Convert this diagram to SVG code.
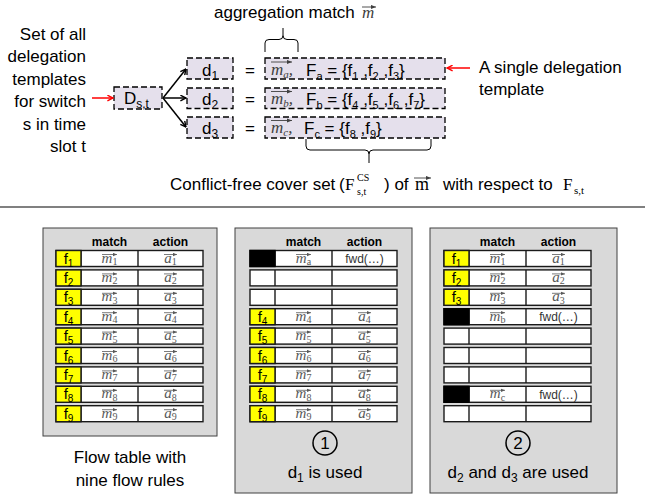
<svg xmlns="http://www.w3.org/2000/svg" xmlns:xlink="http://www.w3.org/1999/xlink" width="645" height="495" viewBox="0 0 645 495">
<style>
text{font-family:"Liberation Sans",Arial,sans-serif;fill:#000}
.s17{font-size:17px}
.dash{fill:#e5e0ec;stroke:#000;stroke-width:1.3;stroke-dasharray:6 3}
.mt{font-family:"Liberation Serif","Times New Roman",serif;font-style:italic;fill:#404040}
.sf{font-family:"Liberation Serif","Times New Roman",serif;fill:#000}
.hdr{font-size:12px;font-weight:bold;text-anchor:middle}
.fl{font-size:15px;text-anchor:middle}
.mi{font-family:"Liberation Serif","Times New Roman",serif;font-style:italic;font-size:15px;fill:#595959;text-anchor:middle}
.sb{font-size:10px;font-style:normal}
.vec{stroke:#595959;stroke-width:0.8;fill:none;marker-end:url(#vh)}
.vec2{stroke:#404040;stroke-width:0.9;fill:none;marker-end:url(#vh2)}
.fwd{font-size:12px;fill:#333;text-anchor:middle}
.panel{fill:#d9d9d9;stroke:#404040;stroke-width:1}
.conn{stroke:#000;stroke-width:1.5;fill:none;marker-end:url(#ah)}
.red{stroke:#ff0000;stroke-width:1.5;fill:none;marker-end:url(#ahr)}
.brace{stroke:#000;stroke-width:1;fill:none}
.lbl{font-size:17px;text-anchor:middle}
</style>
<defs>
<marker id="ah" viewBox="0 0 10 10" refX="9" refY="5" markerWidth="7" markerHeight="7" markerUnits="userSpaceOnUse" orient="auto"><path d="M1,1 L9,5 L1,9" fill="none" stroke="#000" stroke-width="2"/></marker>
<marker id="ahr" viewBox="0 0 10 10" refX="9" refY="5" markerWidth="7" markerHeight="7" markerUnits="userSpaceOnUse" orient="auto"><path d="M1,1 L9,5 L1,9" fill="none" stroke="#ff0000" stroke-width="2"/></marker>
<marker id="vh" viewBox="0 0 6 6" refX="6" refY="3" markerWidth="4" markerHeight="4" markerUnits="userSpaceOnUse" orient="auto"><path d="M0,0.5 L6,3 L0,5.5 z" fill="#595959"/></marker>
<marker id="vh2" viewBox="0 0 6 6" refX="6" refY="3" markerWidth="5" markerHeight="5" markerUnits="userSpaceOnUse" orient="auto"><path d="M0,0.5 L6,3 L0,5.5 z" fill="#404040"/></marker>
<g id="row"><rect x="0" y="0" width="147" height="16" fill="#fff" stroke="#1a1a1a" stroke-width="1.4"/><path d="M25,0V16M82,0V16" stroke="#1a1a1a" stroke-width="1.4"/></g>
<rect id="fy" x="0" y="0" width="25" height="16" fill="#ffff00" stroke="#1a1a1a" stroke-width="1.4"/>
<rect id="fb" x="0" y="0" width="25" height="16" fill="#000" stroke="#000" stroke-width="1.4"/>
</defs>

<rect width="645" height="495" fill="#fff"/>

<!-- left description -->
<g id="desc-left" class="s17">
<text x="86" y="39.5" text-anchor="end">Set of all</text>
<text x="86" y="62" text-anchor="end">delegation</text>
<text x="86" y="84.5" text-anchor="end">templates</text>
<text x="86" y="107" text-anchor="end">for switch</text>
<text x="86" y="129.5" text-anchor="end">s in time</text>
<text x="86" y="152" text-anchor="end">slot t</text>
</g>

<g id="agg-label">
<text class="s17" x="214" y="18">aggregation match</text>
<text class="mt" x="362" y="18" font-size="17">m</text>
<path class="vec2" d="M362,7H376"/>
</g>

<g id="node-D">
<rect class="dash" x="114" y="87" width="48" height="22"/>
<text class="s17" x="124" y="104">D<tspan font-size="12" dy="4">s,t</tspan></text>
</g>

<g id="node-d1">
<rect class="dash" x="187" y="58" width="46" height="21"/>
<text class="s17" x="210" y="75.5" text-anchor="middle">d<tspan font-size="12" dy="4">1</tspan></text>
</g>
<g id="node-d2">
<rect class="dash" x="187" y="88" width="46" height="20.5"/>
<text class="s17" x="210" y="105" text-anchor="middle">d<tspan font-size="12" dy="4">2</tspan></text>
</g>
<g id="node-d3">
<rect class="dash" x="187" y="117" width="46" height="21"/>
<text class="s17" x="210" y="134" text-anchor="middle">d<tspan font-size="12" dy="4">3</tspan></text>
</g>

<g id="equals" class="s17">
<text x="250" y="75.5" text-anchor="middle">=</text>
<text x="250" y="105" text-anchor="middle">=</text>
<text x="250" y="134" text-anchor="middle">=</text>
</g>

<g id="tmpl-a">
<rect class="dash" x="265" y="58" width="180" height="21"/>
<text class="mt" x="271" y="74.5" font-size="17">m<tspan font-size="11" dy="3">a</tspan><tspan dy="-3">,</tspan></text>
<path class="vec2" d="M271,62H292"/>
<text class="s17" x="306" y="75.5">F<tspan font-size="11" dy="4">a</tspan><tspan dy="-4"> = {f</tspan><tspan font-size="11" dy="4">1</tspan><tspan dy="-4"> ,f</tspan><tspan font-size="11" dy="4">2</tspan><tspan dy="-4"> ,f</tspan><tspan font-size="11" dy="4">3</tspan><tspan dy="-4">}</tspan></text>
</g>
<g id="tmpl-b">
<rect class="dash" x="265" y="88" width="180" height="20.5"/>
<text class="mt" x="271" y="104" font-size="17">m<tspan font-size="11" dy="3">b</tspan><tspan dy="-3">,</tspan></text>
<path class="vec2" d="M271,91.5H292"/>
<text class="s17" x="306" y="105">F<tspan font-size="11" dy="4">b</tspan><tspan dy="-4"> = {f</tspan><tspan font-size="11" dy="4">4</tspan><tspan dy="-4"> ,f</tspan><tspan font-size="11" dy="4">5</tspan><tspan dy="-4"> ,f</tspan><tspan font-size="11" dy="4">6</tspan><tspan dy="-4"> ,f</tspan><tspan font-size="11" dy="4">7</tspan><tspan dy="-4">}</tspan></text>
</g>
<g id="tmpl-c">
<rect class="dash" x="265" y="117" width="180" height="21"/>
<text class="mt" x="271" y="133" font-size="17">m<tspan font-size="11" dy="3">c</tspan><tspan dy="-3">,</tspan></text>
<path class="vec2" d="M271,120.5H292"/>
<text class="s17" x="304" y="134">F<tspan font-size="11" dy="4">c</tspan><tspan dy="-4"> = {f</tspan><tspan font-size="11" dy="4">8</tspan><tspan dy="-4"> ,f</tspan><tspan font-size="11" dy="4">9</tspan><tspan dy="-4">}</tspan></text>
</g>

<g id="desc-right" class="s17">
<text x="479" y="73">A single delegation</text>
<text x="479" y="95">template</text>
</g>

<g id="connectors">
<path class="red" d="M92,98H113"/>
<path class="red" d="M470,68H447"/>
<path class="conn" d="M163,98L186,69"/>
<path class="conn" d="M163,98H186"/>
<path class="conn" d="M163,98L186,127"/>
<path class="brace" d="M265,52V43Q265,39.5 269,39.5H279Q283,39.5 283,35.5V28M283,35.5Q283,39.5 287,39.5H294Q298,39.5 298,43V52"/>
<path class="brace" d="M306,139V146Q306,150 310,150H365Q369,150 369,154V163M369,154Q369,150 373,150H427Q431,150 431,146V139"/>
</g>

<g id="cover-label">
<text class="s17" x="170" y="190">Conflict-free cover set</text>
<text class="s17" x="339" y="190">(</text>
<text class="sf" x="345" y="190" font-size="17">F</text>
<text class="sf" x="357" y="181" font-size="10">CS</text>
<text class="sf" x="357" y="195" font-size="10">s,t</text>
<text class="s17" x="384" y="190">) of</text>
<text class="sf" x="415" y="190" font-size="18">m</text>
<path class="vec2" d="M414,178H431"/>
<text class="s17" x="443" y="190">with respect to</text>
<text class="sf" x="563" y="190" font-size="17">F</text>
<text class="sf" x="574" y="194" font-size="11">s,t</text>
</g>

<path id="separator" d="M0,207H645" stroke="#808080" stroke-width="2"/>

<!-- Panel 1 -->
<g id="panel-flowtable">
<rect class="panel" x="43" y="228" width="174" height="208"/>
<text class="hdr" x="109.5" y="246">match</text>
<text class="hdr" x="170.5" y="246">action</text>
<g transform="translate(56,250.5)"><use href="#row"/><use href="#fy"/><text class="fl" x="12.5" y="13">f<tspan class="sb" dy="3">1</tspan></text><text class="mi" x="53.5" y="12">m<tspan class="sb" dy="2.5">1</tspan></text><path class="vec" d="M46,4H61"/><text class="mi" x="114.5" y="12">a<tspan class="sb" dy="2.5">1</tspan></text><path class="vec" d="M108,4H121"/></g>
<g transform="translate(56,269.9)"><use href="#row"/><use href="#fy"/><text class="fl" x="12.5" y="13">f<tspan class="sb" dy="3">2</tspan></text><text class="mi" x="53.5" y="12">m<tspan class="sb" dy="2.5">2</tspan></text><path class="vec" d="M46,4H61"/><text class="mi" x="114.5" y="12">a<tspan class="sb" dy="2.5">2</tspan></text><path class="vec" d="M108,4H121"/></g>
<g transform="translate(56,289.3)"><use href="#row"/><use href="#fy"/><text class="fl" x="12.5" y="13">f<tspan class="sb" dy="3">3</tspan></text><text class="mi" x="53.5" y="12">m<tspan class="sb" dy="2.5">3</tspan></text><path class="vec" d="M46,4H61"/><text class="mi" x="114.5" y="12">a<tspan class="sb" dy="2.5">3</tspan></text><path class="vec" d="M108,4H121"/></g>
<g transform="translate(56,308.7)"><use href="#row"/><use href="#fy"/><text class="fl" x="12.5" y="13">f<tspan class="sb" dy="3">4</tspan></text><text class="mi" x="53.5" y="12">m<tspan class="sb" dy="2.5">4</tspan></text><path class="vec" d="M46,4H61"/><text class="mi" x="114.5" y="12">a<tspan class="sb" dy="2.5">4</tspan></text><path class="vec" d="M108,4H121"/></g>
<g transform="translate(56,328.1)"><use href="#row"/><use href="#fy"/><text class="fl" x="12.5" y="13">f<tspan class="sb" dy="3">5</tspan></text><text class="mi" x="53.5" y="12">m<tspan class="sb" dy="2.5">5</tspan></text><path class="vec" d="M46,4H61"/><text class="mi" x="114.5" y="12">a<tspan class="sb" dy="2.5">5</tspan></text><path class="vec" d="M108,4H121"/></g>
<g transform="translate(56,347.5)"><use href="#row"/><use href="#fy"/><text class="fl" x="12.5" y="13">f<tspan class="sb" dy="3">6</tspan></text><text class="mi" x="53.5" y="12">m<tspan class="sb" dy="2.5">6</tspan></text><path class="vec" d="M46,4H61"/><text class="mi" x="114.5" y="12">a<tspan class="sb" dy="2.5">6</tspan></text><path class="vec" d="M108,4H121"/></g>
<g transform="translate(56,366.9)"><use href="#row"/><use href="#fy"/><text class="fl" x="12.5" y="13">f<tspan class="sb" dy="3">7</tspan></text><text class="mi" x="53.5" y="12">m<tspan class="sb" dy="2.5">7</tspan></text><path class="vec" d="M46,4H61"/><text class="mi" x="114.5" y="12">a<tspan class="sb" dy="2.5">7</tspan></text><path class="vec" d="M108,4H121"/></g>
<g transform="translate(56,386.3)"><use href="#row"/><use href="#fy"/><text class="fl" x="12.5" y="13">f<tspan class="sb" dy="3">8</tspan></text><text class="mi" x="53.5" y="12">m<tspan class="sb" dy="2.5">8</tspan></text><path class="vec" d="M46,4H61"/><text class="mi" x="114.5" y="12">a<tspan class="sb" dy="2.5">8</tspan></text><path class="vec" d="M108,4H121"/></g>
<g transform="translate(56,405.7)"><use href="#row"/><use href="#fy"/><text class="fl" x="12.5" y="13">f<tspan class="sb" dy="3">9</tspan></text><text class="mi" x="53.5" y="12">m<tspan class="sb" dy="2.5">9</tspan></text><path class="vec" d="M46,4H61"/><text class="mi" x="114.5" y="12">a<tspan class="sb" dy="2.5">9</tspan></text><path class="vec" d="M108,4H121"/></g>
</g>
<g id="label-flowtable">
<text class="lbl" x="130" y="463">Flow table with</text>
<text class="lbl" x="130" y="486">nine flow rules</text>
</g>

<!-- Panel 2 -->
<g id="panel-d1">
<rect class="panel" x="235" y="228" width="177" height="265"/>
<text class="hdr" x="303.5" y="246">match</text>
<text class="hdr" x="364.5" y="246">action</text>
<g transform="translate(250,250.5)"><use href="#row"/><use href="#fb"/><text class="mi" x="53.5" y="12">m<tspan class="sb" font-style="italic" dy="2.5">a</tspan></text><path class="vec" d="M46,4H61"/><text class="fwd" x="114.5" y="12.5">fwd(…)</text></g>
<g transform="translate(250,269.9)"><use href="#row"/></g>
<g transform="translate(250,289.3)"><use href="#row"/></g>
<g transform="translate(250,308.7)"><use href="#row"/><use href="#fy"/><text class="fl" x="12.5" y="13">f<tspan class="sb" dy="3">4</tspan></text><text class="mi" x="53.5" y="12">m<tspan class="sb" dy="2.5">4</tspan></text><path class="vec" d="M46,4H61"/><text class="mi" x="114.5" y="12">a<tspan class="sb" dy="2.5">4</tspan></text><path class="vec" d="M108,4H121"/></g>
<g transform="translate(250,328.1)"><use href="#row"/><use href="#fy"/><text class="fl" x="12.5" y="13">f<tspan class="sb" dy="3">5</tspan></text><text class="mi" x="53.5" y="12">m<tspan class="sb" dy="2.5">5</tspan></text><path class="vec" d="M46,4H61"/><text class="mi" x="114.5" y="12">a<tspan class="sb" dy="2.5">5</tspan></text><path class="vec" d="M108,4H121"/></g>
<g transform="translate(250,347.5)"><use href="#row"/><use href="#fy"/><text class="fl" x="12.5" y="13">f<tspan class="sb" dy="3">6</tspan></text><text class="mi" x="53.5" y="12">m<tspan class="sb" dy="2.5">6</tspan></text><path class="vec" d="M46,4H61"/><text class="mi" x="114.5" y="12">a<tspan class="sb" dy="2.5">6</tspan></text><path class="vec" d="M108,4H121"/></g>
<g transform="translate(250,366.9)"><use href="#row"/><use href="#fy"/><text class="fl" x="12.5" y="13">f<tspan class="sb" dy="3">7</tspan></text><text class="mi" x="53.5" y="12">m<tspan class="sb" dy="2.5">7</tspan></text><path class="vec" d="M46,4H61"/><text class="mi" x="114.5" y="12">a<tspan class="sb" dy="2.5">7</tspan></text><path class="vec" d="M108,4H121"/></g>
<g transform="translate(250,386.3)"><use href="#row"/><use href="#fy"/><text class="fl" x="12.5" y="13">f<tspan class="sb" dy="3">8</tspan></text><text class="mi" x="53.5" y="12">m<tspan class="sb" dy="2.5">8</tspan></text><path class="vec" d="M46,4H61"/><text class="mi" x="114.5" y="12">a<tspan class="sb" dy="2.5">8</tspan></text><path class="vec" d="M108,4H121"/></g>
<g transform="translate(250,405.7)"><use href="#row"/><use href="#fy"/><text class="fl" x="12.5" y="13">f<tspan class="sb" dy="3">9</tspan></text><text class="mi" x="53.5" y="12">m<tspan class="sb" dy="2.5">9</tspan></text><path class="vec" d="M46,4H61"/><text class="mi" x="114.5" y="12">a<tspan class="sb" dy="2.5">9</tspan></text><path class="vec" d="M108,4H121"/></g>
<circle cx="325" cy="443" r="12" fill="none" stroke="#000" stroke-width="1.5"/>
<text class="lbl" x="325" y="449">1</text>
<text class="lbl" x="325" y="478">d<tspan font-size="12" dy="4">1</tspan><tspan dy="-4"> is used</tspan></text>
</g>

<!-- Panel 3 -->
<g id="panel-d2d3">
<rect class="panel" x="430" y="228" width="187" height="265"/>
<text class="hdr" x="497.5" y="246">match</text>
<text class="hdr" x="558.5" y="246">action</text>
<g transform="translate(444,250.5)"><use href="#row"/><use href="#fy"/><text class="fl" x="12.5" y="13">f<tspan class="sb" dy="3">1</tspan></text><text class="mi" x="53.5" y="12">m<tspan class="sb" dy="2.5">1</tspan></text><path class="vec" d="M46,4H61"/><text class="mi" x="114.5" y="12">a<tspan class="sb" dy="2.5">1</tspan></text><path class="vec" d="M108,4H121"/></g>
<g transform="translate(444,269.9)"><use href="#row"/><use href="#fy"/><text class="fl" x="12.5" y="13">f<tspan class="sb" dy="3">2</tspan></text><text class="mi" x="53.5" y="12">m<tspan class="sb" dy="2.5">2</tspan></text><path class="vec" d="M46,4H61"/><text class="mi" x="114.5" y="12">a<tspan class="sb" dy="2.5">2</tspan></text><path class="vec" d="M108,4H121"/></g>
<g transform="translate(444,289.3)"><use href="#row"/><use href="#fy"/><text class="fl" x="12.5" y="13">f<tspan class="sb" dy="3">3</tspan></text><text class="mi" x="53.5" y="12">m<tspan class="sb" dy="2.5">3</tspan></text><path class="vec" d="M46,4H61"/><text class="mi" x="114.5" y="12">a<tspan class="sb" dy="2.5">3</tspan></text><path class="vec" d="M108,4H121"/></g>
<g transform="translate(444,308.7)"><use href="#row"/><use href="#fb"/><text class="mi" x="53.5" y="12">m<tspan class="sb" font-style="italic" dy="2.5">b</tspan></text><path class="vec" d="M46,4H61"/><text class="fwd" x="114.5" y="12.5">fwd(…)</text></g>
<g transform="translate(444,328.1)"><use href="#row"/></g>
<g transform="translate(444,347.5)"><use href="#row"/></g>
<g transform="translate(444,366.9)"><use href="#row"/></g>
<g transform="translate(444,386.3)"><use href="#row"/><use href="#fb"/><text class="mi" x="53.5" y="12">m<tspan class="sb" font-style="italic" dy="2.5">c</tspan></text><path class="vec" d="M46,4H61"/><text class="fwd" x="114.5" y="12.5">fwd(…)</text></g>
<g transform="translate(444,405.7)"><use href="#row"/></g>
<circle cx="518" cy="443" r="12" fill="none" stroke="#000" stroke-width="1.5"/>
<text class="lbl" x="518" y="449">2</text>
<text class="lbl" x="518" y="478">d<tspan font-size="12" dy="4">2</tspan><tspan dy="-4"> and d</tspan><tspan font-size="12" dy="4">3</tspan><tspan dy="-4"> are used</tspan></text>
</g>
</svg>
